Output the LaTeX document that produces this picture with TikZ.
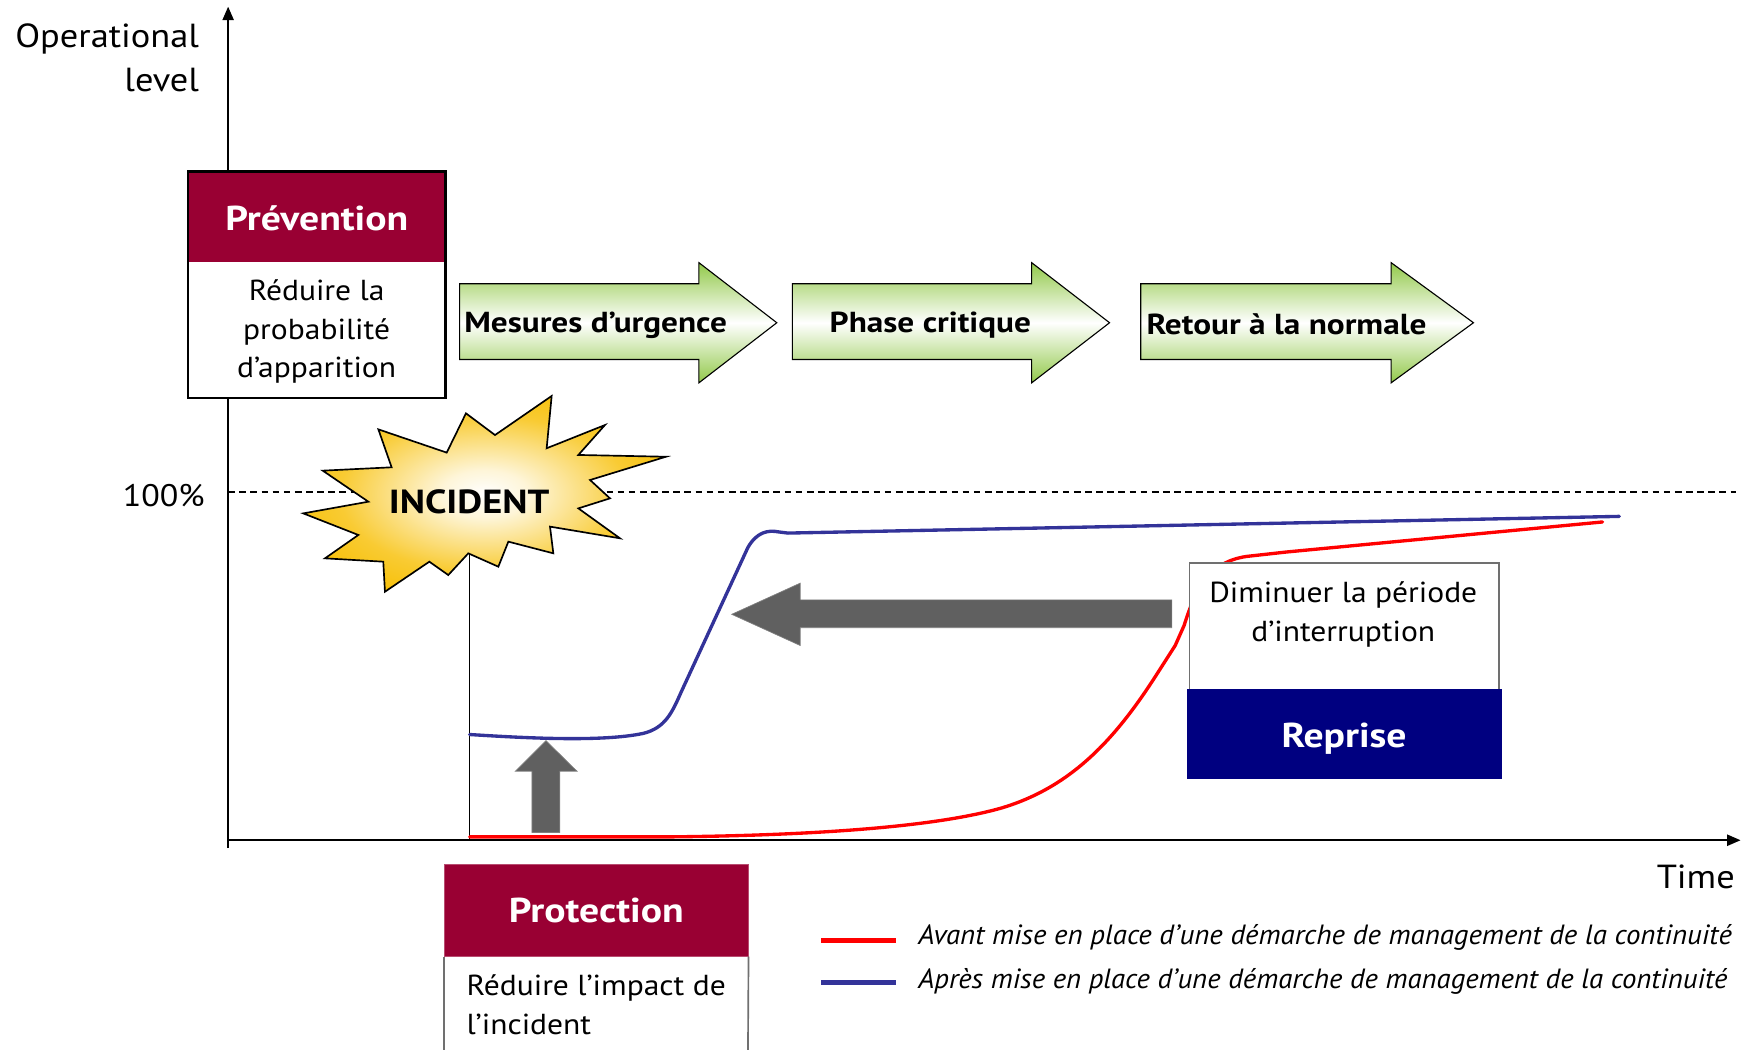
\documentclass[tikz,border=0pt]{standalone}
\usepackage{fontspec}
\usepackage{graphicx}
\setmainfont{PT Sans}[FakeStretch=1.09, BoldFeatures={FakeStretch=1.15}]
\usetikzlibrary{arrows.meta}

\definecolor{wine}{HTML}{990033}
\definecolor{reprisenavy}{HTML}{000080}
\definecolor{arrowgray}{HTML}{606060}
\definecolor{boxgray}{HTML}{707070}
\definecolor{curveblue}{HTML}{333399}
\definecolor{curvered}{HTML}{FF0000}
\definecolor{phasegreen}{HTML}{92C94A}
\definecolor{stargold}{HTML}{F7BE00}

% radial glow of the incident burst
\pgfdeclareradialshading{starglow}{\pgfpoint{0bp}{0bp}}{%
  color(0bp)=(white); color(6bp)=(white!85!stargold);
  color(20bp)=(stargold!80!white); color(30bp)=(stargold); color(50bp)=(stargold)}

% horizontal-only scaling of a text to a given width
\newcommand\fitto[2]{\resizebox{#1}{\height}{#2}}

\tikzset{
  axisline/.style={line width=1.5pt, -{Triangle[length=12pt,width=10pt]}},
  phasearrow/.style={draw=black, line width=1pt, top color=phasegreen, bottom color=phasegreen, middle color=white},
  phasetext/.style={font=\fontsize{26}{30}\selectfont\bfseries, inner sep=0pt},
  headtext/.style={font=\fontsize{31}{36}\selectfont\bfseries, text=white, inner sep=0pt},
  bodytext/.style={font=\fontsize{26}{34.5}\selectfont, inner sep=0pt},
  curve/.style={line width=3pt, line join=round, line cap=round},
  bigarrow/.style={fill=arrowgray, draw=arrowgray!80!white, line width=0.6pt},
  legendtext/.style={font=\fontsize{25}{30}\selectfont\itshape, anchor=west, inner sep=0pt},
}

\begin{document}
\begin{tikzpicture}[x=1pt,y=-1pt]
\useasboundingbox (0,0) rectangle (1568,943);
\fill[white] (0,0) rectangle (1568,943);

% 100% reference level
\coordinate (full0) at (205,442);
\coordinate (full1) at (1560,442);
\draw[line width=1.2pt, dash pattern=on 6pt off 4pt] (full0) -- (full1);
\node[anchor=east, font=\fontsize{28}{32}\selectfont, inner sep=0pt] (pct) at (184,445) {100\%};

% axes
\coordinate (origin) at (205,755);
\coordinate (ybottom) at (205,762);
\coordinate (ytop) at (205,6);
\coordinate (xend) at (1564,755);
\draw[axisline] (ybottom) -- (ytop);
\draw[axisline] (origin) -- (xend);
\node[anchor=east, align=right, font=\fontsize{30}{40}\selectfont, inner sep=0pt] (ylabel) at (179,52) {Operational\\level};
\node[anchor=east, font=\fontsize{30}{36}\selectfont, inner sep=0pt] (xlabel) at (1559,788) {Time};

% incident instant
\coordinate (incident) at (422,460);
\coordinate (incfoot) at (422,755);
\draw[line width=1.5pt] (incident) -- (incfoot);

% operational level after the continuity approach
\draw[curve, curveblue] (422,660) .. controls (470,663) and (540,667) .. (578,659)
  .. controls (598,654) and (604,640) .. (612,622) -- (672,492)
  .. controls (680,478) and (690,476) .. (700,478) -- (708,479) -- (1455,464);

% operational level before the continuity approach
\draw[curve, curvered] (422,752) -- (600,752)
  .. controls (700,751) and (830,746) .. (900,726)
  .. controls (960,708) and (1000,668) .. (1040,605) -- (1056,580) -- (1064,562)
  .. controls (1074,530) and (1086,505) .. (1120,500) -- (1156,496) -- (1440,469);

% incident burst
\shadedraw[shading=starglow, draw=black, line width=1.5pt, line join=miter]
  (495.7,355.8) -- (491.2,402.8) -- (543.6,381.9) -- (519.7,408.8) -- (598.4,410.4)
  -- (530.2,431.3) -- (548.1,447.8) -- (519.7,456.8) -- (557.1,483.7) -- (494.2,473.2)
  -- (497.2,497.2) -- (456.8,486.7) -- (447.8,509.2) -- (420.8,497.2) -- (402.8,516.7)
  -- (385.8,504.7) -- (345.9,531.7) -- (344.4,504.7) -- (292.0,501.7) -- (322.0,480.7)
  -- (272.5,461.3) -- (331.0,450.8) -- (290.0,422.9) -- (351.9,419.9) -- (340.0,385.8)
  -- (401.4,406.7) -- (418.7,371.4) -- (444.8,390.9) -- cycle;
\node[font=\fontsize{30}{36}\selectfont\bfseries, inner sep=0pt] (inctext) at (421.5,451) {INCIDENT};

% Prevention box
\node[fill=white, minimum width=231pt, minimum height=203pt, anchor=north west, inner sep=0pt] (prevbox) at (169,154) {};
\node[fill=wine, minimum width=231pt, minimum height=81pt, anchor=north west, inner sep=0pt] (prevhead) at (169,154) {};
\draw[line width=2pt] (prevbox.north west) rectangle (prevbox.south east);
\node[headtext] (prevtitle) at ([yshift=-1.5pt]prevhead.center) {Prévention};
\node[bodytext, align=center] (prevdesc) at (284.5,298) {Réduire la\\probabilité\\d’apparition};

% phase arrows
\shadedraw[phasearrow] (413,255) -- (628,255) -- (628,236) -- (698,290) -- (628,344) -- (628,323) -- (413,323) -- cycle;
\shadedraw[phasearrow] (712,255) -- (927,255) -- (927,236) -- (997,290) -- (927,344) -- (927,323) -- (712,323) -- cycle;
\shadedraw[phasearrow] (1025,255) -- (1250,255) -- (1250,236) -- (1324,290) -- (1250,344) -- (1250,323) -- (1025,323) -- cycle;
\node[phasetext, anchor=west] (phase1) at (417,292) {Mesures d’urgence};
\node[phasetext] (phase2) at (836,292) {Phase critique};
\node[phasetext, anchor=west] (phase3) at (1030,291) {Retour à la normale};

% shortening of the interruption
\fill[bigarrow] (1053,539) -- (719,539) -- (719,524) -- (657.5,552) -- (719,580) -- (719,564) -- (1053,564) -- cycle;
% raised minimum level
\fill[bigarrow] (478,748) -- (478,693) -- (463,693) -- (490.6,665.5) -- (518.5,693) -- (503,693) -- (503,748) -- cycle;

% Recovery box
\node[draw=boxgray, line width=1.5pt, fill=white, minimum width=278pt, minimum height=114pt, anchor=north west, inner sep=0pt] (dimbox) at (1068,505) {};
\node[bodytext, align=center] (dimtext) at (1207,552) {Diminuer la période\\d’interruption};
\node[fill=reprisenavy, minimum width=283pt, minimum height=81pt, anchor=north west, inner sep=0pt] (reprise) at (1066,619) {};
\node[headtext] (reprisetitle) at ([yshift=-4pt]reprise.center) {Reprise};

% Protection box
\coordinate (protbl) at (399,960);
\coordinate (protbr) at (672,960);
\node[fill=wine, draw=wine!70!white, line width=0.6pt, minimum width=273pt, minimum height=83pt, anchor=north west, inner sep=0pt] (prothead) at (399,776) {};
\draw[boxgray, line width=1.5pt] (prothead.south west) -- (protbl);
\draw[boxgray, line width=1.5pt] (prothead.south east) -- (protbr);
\node[headtext] (prottitle) at (prothead.center) {Protection};
\node[bodytext, align=left, anchor=north west] (protdesc) at (419,876) {Réduire l’impact de\\l’incident};

% legend
\coordinate (lr0) at (738,845);
\coordinate (lr1) at (805,845);
\coordinate (lb0) at (738,883);
\coordinate (lb1) at (805,883);
\draw[curvered, line width=4pt] (lr0) -- (lr1);
\draw[curveblue, line width=4pt] (lb0) -- (lb1);
\node[legendtext] (legred) at (825,842) {\fitto{731pt}{Avant mise en place d’une démarche de management de la continuité}};
\node[legendtext] (legblue) at (825,882) {\fitto{727pt}{Après mise en place d’une démarche de management de la continuité}};
\end{tikzpicture}
\end{document}
